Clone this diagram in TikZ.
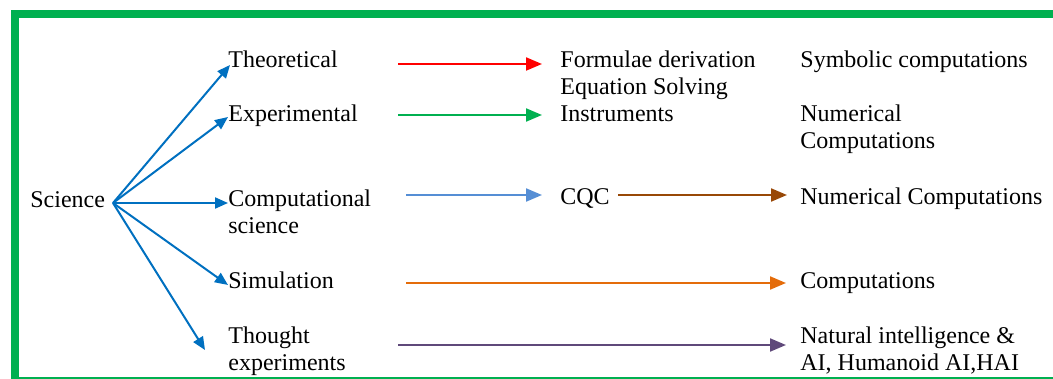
\documentclass[tikz,border=0pt]{standalone}
\usepackage{fontspec}
\setmainfont{Liberation Serif}
\usetikzlibrary{arrows.meta}
\definecolor{framegreen}{HTML}{00B050}
\definecolor{fanblue}{HTML}{0070C0}
\definecolor{skyblue}{HTML}{558ED5}
\definecolor{arrred}{HTML}{FF0000}
\definecolor{arrgreen}{HTML}{00B050}
\definecolor{arrbrown}{HTML}{984807}
\definecolor{arrorange}{HTML}{E46C0A}
\definecolor{arrpurple}{HTML}{5F497A}
\tikzset{
  itemtext/.style={
    anchor=base west, inner sep=0pt, align=left,
    font=\fontsize{12}{13.5}\selectfont
  },
  fanarrow/.style={
    -{Triangle[length=6.5pt,width=5.5pt]}, line width=1pt, color=fanblue
  },
  flowarrow/.style={
    -{Triangle[length=8pt,width=6.5pt]}, line width=1pt, color=#1
  },
  flowarrow/.default=fanblue,
}
\begin{document}
\begin{tikzpicture}[x=0.5pt,y=-0.5pt]
  \useasboundingbox (0,0) rectangle (1053,379);
  % Frame
  \draw[framegreen, line width=4pt] (15,14) rectangle (1070,381);

  % Left: the root and its branches (base = last line)
  \node[itemtext] (sci) at (30,207) {Science};
  \coordinate (hub) at (113,203);
  \node[itemtext] (theo) at (228,68) {Theoretical};
  \node[itemtext] (expt) at (228,122) {Experimental};
  \node[itemtext] (comp) at (228,234) {Computational\\science};
  \node[itemtext] (simu) at (228,288) {Simulation};
  \node[itemtext] (thgt) at (228,370) {Thought\\experiments};

  % Middle column
  \node[itemtext] (form) at (560,95) {Formulae derivation\\Equation Solving};
  \node[itemtext] (inst) at (560,122) {Instruments};
  \node[itemtext] (cqc) at (560,205) {CQC};

  % Right column
  \node[itemtext] (symb) at (800,68) {Symbolic computations};
  \node[itemtext] (nume) at (800,149) {Numerical\\Computations};
  \node[itemtext] (ncmp) at (800,205) {Numerical Computations};
  \node[itemtext] (cmpt) at (800,288) {Computations};
  \node[itemtext] (natu) at (800,370) {Natural intelligence \&\\AI, Humanoid AI,HAI};

  % Fan out of Science
  \draw[fanarrow] (hub) -- ([xshift=1pt,yshift=1.5pt]theo.base west);
  \draw[fanarrow] (hub) -- ([yshift=2.5pt]expt.base west);
  \draw[fanarrow] (hub) -- ([yshift=15.5pt]comp.base west);
  \draw[fanarrow] (hub) -- ([yshift=1.5pt]simu.base west);
  \draw[fanarrow] (hub) -- ([xshift=-11.5pt,yshift=10pt]thgt.base west);

  % Arrow tails
  \coordinate (redin) at (398,64);
  \coordinate (greenin) at (398,115);
  \coordinate (bluein) at (406,195);
  \coordinate (orangein) at (406,283);
  \coordinate (purplein) at (398,345);

  % Row arrows
  \draw[flowarrow=arrred, shorten >=9pt] (redin) -- (redin -| form.west);
  \draw[flowarrow=arrgreen, shorten >=9pt] (greenin) -- (greenin -| inst.west);
  \draw[flowarrow=skyblue, shorten >=9pt] (bluein) -- (bluein -| cqc.west);
  \draw[flowarrow=arrbrown, shorten <=4pt, shorten >=6.5pt]
    (bluein -| cqc.east) -- (bluein -| ncmp.west);
  \draw[flowarrow=arrorange, shorten >=7pt] (orangein) -- (orangein -| cmpt.west);
  \draw[flowarrow=arrpurple, shorten >=7pt] (purplein) -- (purplein -| natu.west);
\end{tikzpicture}
\end{document}
